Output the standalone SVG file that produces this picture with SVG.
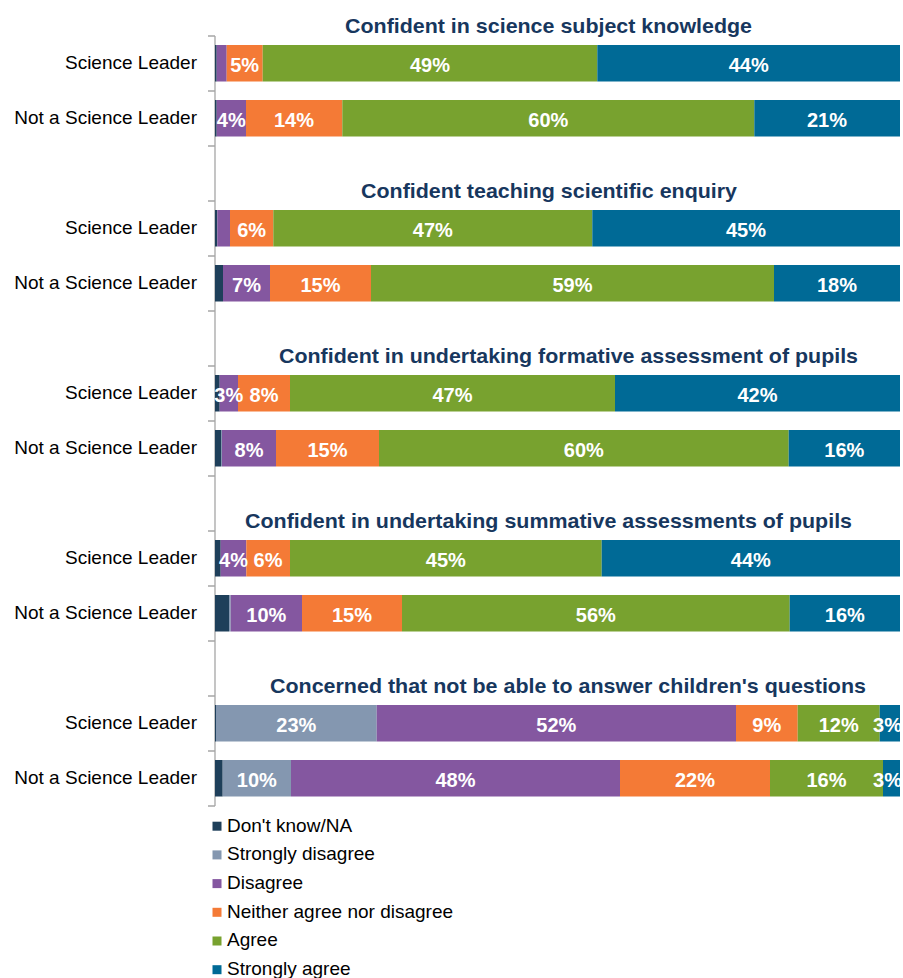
<svg xmlns="http://www.w3.org/2000/svg" width="903" height="978" viewBox="0 0 903 978">
<style>
.dk{fill:#1E3F5A}.sd{fill:#8497B0}.dis{fill:#8457A0}.nei{fill:#F47A36}.agr{fill:#78A22F}.sa{fill:#006A96}
.ttl{font-family:"Liberation Sans",Arial,sans-serif;font-weight:bold;font-size:21px;fill:#17375E}
.cat{font-family:"Liberation Sans",Arial,sans-serif;font-size:19px;fill:#000;text-anchor:end}
.val{font-family:"Liberation Sans",Arial,sans-serif;font-weight:bold;font-size:20px;fill:#fff;text-anchor:middle}
.leg{font-family:"Liberation Sans",Arial,sans-serif;font-size:19px;fill:#000}
.ax{stroke:#A6A6A6;stroke-width:1.3;fill:none}
</style>
<rect width="903" height="978" fill="#fff"/>
<g id="axis">
<path class="ax" d="M215,36V806M208,36H215M208,91H215M208,146H215M208,201H215M208,256H215M208,311H215M208,366H215M208,421H215M208,476H215M208,531H215M208,586H215M208,641H215M208,696H215M208,751H215M208,806H215"/>
</g>
<g id="titles">
<text class="ttl" x="345" y="33" textLength="407" lengthAdjust="spacingAndGlyphs">Confident in science subject knowledge</text>
<text class="ttl" x="361" y="198" textLength="376" lengthAdjust="spacingAndGlyphs">Confident teaching scientific enquiry</text>
<text class="ttl" x="279" y="363" textLength="579" lengthAdjust="spacingAndGlyphs">Confident in undertaking formative assessment of pupils</text>
<text class="ttl" x="245" y="528" textLength="607" lengthAdjust="spacingAndGlyphs">Confident in undertaking summative assessments of pupils</text>
<text class="ttl" x="270" y="693" textLength="596" lengthAdjust="spacingAndGlyphs">Concerned that not be able to answer children's questions</text>
</g>
<g id="categories">
<text class="cat" x="197" y="69">Science Leader</text>
<text class="cat" x="197" y="124">Not a Science Leader</text>
<text class="cat" x="197" y="234">Science Leader</text>
<text class="cat" x="197" y="289">Not a Science Leader</text>
<text class="cat" x="197" y="399">Science Leader</text>
<text class="cat" x="197" y="454">Not a Science Leader</text>
<text class="cat" x="197" y="564">Science Leader</text>
<text class="cat" x="197" y="619">Not a Science Leader</text>
<text class="cat" x="197" y="729">Science Leader</text>
<text class="cat" x="197" y="784">Not a Science Leader</text>
</g>
<g id="g1-sl">
<rect class="dk" x="215" y="45" width="1.7" height="36.5"/>
<rect class="dis" x="216.7" y="45" width="10" height="36.5"/>
<rect class="nei" x="226.7" y="45" width="36" height="36.5"/>
<rect class="agr" x="262.7" y="45" width="334.6" height="36.5"/>
<rect class="sa" x="597.3" y="45" width="302.7" height="36.5"/>
<text class="val" x="244.7" y="72">5%</text>
<text class="val" x="430" y="72">49%</text>
<text class="val" x="748.7" y="72">44%</text>
</g>
<g id="g1-nsl">
<rect class="dk" x="215" y="100" width="1.7" height="36.5"/>
<rect class="dis" x="216.7" y="100" width="29.3" height="36.5"/>
<rect class="nei" x="246" y="100" width="96.3" height="36.5"/>
<rect class="agr" x="342.3" y="100" width="412" height="36.5"/>
<rect class="sa" x="754.3" y="100" width="145.7" height="36.5"/>
<text class="val" x="231.3" y="127">4%</text>
<text class="val" x="294" y="127">14%</text>
<text class="val" x="548.3" y="127">60%</text>
<text class="val" x="827" y="127">21%</text>
</g>
<g id="g2-sl">
<rect class="dk" x="215" y="210" width="2.3" height="36.5"/>
<rect class="dis" x="217.3" y="210" width="12.7" height="36.5"/>
<rect class="nei" x="230" y="210" width="43.3" height="36.5"/>
<rect class="agr" x="273.3" y="210" width="319" height="36.5"/>
<rect class="sa" x="592.3" y="210" width="307.7" height="36.5"/>
<text class="val" x="251.7" y="237">6%</text>
<text class="val" x="432.8" y="237">47%</text>
<text class="val" x="746" y="237">45%</text>
</g>
<g id="g2-nsl">
<rect class="dk" x="215" y="265" width="8" height="36.5"/>
<rect class="dis" x="223" y="265" width="47" height="36.5"/>
<rect class="nei" x="270" y="265" width="101" height="36.5"/>
<rect class="agr" x="371" y="265" width="403" height="36.5"/>
<rect class="sa" x="774" y="265" width="126" height="36.5"/>
<text class="val" x="246.5" y="292">7%</text>
<text class="val" x="320.5" y="292">15%</text>
<text class="val" x="572.5" y="292">59%</text>
<text class="val" x="837" y="292">18%</text>
</g>
<g id="g3-sl">
<rect class="dk" x="215" y="375" width="4.7" height="36.5"/>
<rect class="dis" x="219.7" y="375" width="18.3" height="36.5"/>
<rect class="nei" x="238" y="375" width="52" height="36.5"/>
<rect class="agr" x="290" y="375" width="325" height="36.5"/>
<rect class="sa" x="615" y="375" width="285" height="36.5"/>
<text class="val" x="228.8" y="402">3%</text>
<text class="val" x="264" y="402">8%</text>
<text class="val" x="452.5" y="402">47%</text>
<text class="val" x="757.5" y="402">42%</text>
</g>
<g id="g3-nsl">
<rect class="dk" x="215" y="430" width="6" height="36.5"/>
<rect class="sd" x="221" y="430" width="1" height="36.5"/>
<rect class="dis" x="222" y="430" width="54" height="36.5"/>
<rect class="nei" x="276" y="430" width="103" height="36.5"/>
<rect class="agr" x="379" y="430" width="409.7" height="36.5"/>
<rect class="sa" x="788.7" y="430" width="111.3" height="36.5"/>
<text class="val" x="249" y="457">8%</text>
<text class="val" x="327.5" y="457">15%</text>
<text class="val" x="583.8" y="457">60%</text>
<text class="val" x="844.3" y="457">16%</text>
</g>
<g id="g4-sl">
<rect class="dk" x="215" y="540" width="5.7" height="36.5"/>
<rect class="dis" x="220.7" y="540" width="25.6" height="36.5"/>
<rect class="nei" x="246.3" y="540" width="43.7" height="36.5"/>
<rect class="agr" x="290" y="540" width="311.7" height="36.5"/>
<rect class="sa" x="601.7" y="540" width="298.3" height="36.5"/>
<text class="val" x="233.5" y="567">4%</text>
<text class="val" x="268" y="567">6%</text>
<text class="val" x="445.8" y="567">45%</text>
<text class="val" x="750.8" y="567">44%</text>
</g>
<g id="g4-nsl">
<rect class="dk" x="215" y="595" width="14" height="36.5"/>
<rect class="sd" x="229" y="595" width="1.7" height="36.5"/>
<rect class="dis" x="230.7" y="595" width="71.3" height="36.5"/>
<rect class="nei" x="302" y="595" width="100" height="36.5"/>
<rect class="agr" x="402" y="595" width="387.7" height="36.5"/>
<rect class="sa" x="789.7" y="595" width="110.3" height="36.5"/>
<text class="val" x="266.3" y="622">10%</text>
<text class="val" x="352" y="622">15%</text>
<text class="val" x="595.8" y="622">56%</text>
<text class="val" x="844.8" y="622">16%</text>
</g>
<g id="g5-sl">
<rect class="dk" x="215" y="705" width="1" height="36.5"/>
<rect class="sd" x="216" y="705" width="160.7" height="36.5"/>
<rect class="dis" x="376.7" y="705" width="359.3" height="36.5"/>
<rect class="nei" x="736" y="705" width="61.7" height="36.5"/>
<rect class="agr" x="797.7" y="705" width="82" height="36.5"/>
<rect class="sa" x="879.7" y="705" width="20.3" height="36.5"/>
<text class="val" x="296.3" y="732">23%</text>
<text class="val" x="556.3" y="732">52%</text>
<text class="val" x="766.8" y="732">9%</text>
<text class="val" x="838.7" y="732">12%</text>
<text class="val" x="887.5" y="732">3%</text>
</g>
<g id="g5-nsl">
<rect class="dk" x="215" y="760" width="7.7" height="36.5"/>
<rect class="sd" x="222.7" y="760" width="68.3" height="36.5"/>
<rect class="dis" x="291" y="760" width="329" height="36.5"/>
<rect class="nei" x="620" y="760" width="150" height="36.5"/>
<rect class="agr" x="770" y="760" width="113" height="36.5"/>
<rect class="sa" x="883" y="760" width="17" height="36.5"/>
<text class="val" x="256.8" y="787">10%</text>
<text class="val" x="455.5" y="787">48%</text>
<text class="val" x="695" y="787">22%</text>
<text class="val" x="826.5" y="787">16%</text>
<text class="val" x="887.5" y="787">3%</text>
</g>
<g id="legend">
<rect class="dk" x="212.5" y="821.7" width="9" height="9"/>
<text class="leg" x="227" y="831.5">Don't know/NA</text>
<rect class="sd" x="212.5" y="850.4" width="9" height="9"/>
<text class="leg" x="227" y="860.2">Strongly disagree</text>
<rect class="dis" x="212.5" y="879.1" width="9" height="9"/>
<text class="leg" x="227" y="888.9">Disagree</text>
<rect class="nei" x="212.5" y="907.8" width="9" height="9"/>
<text class="leg" x="227" y="917.6">Neither agree nor disagree</text>
<rect class="agr" x="212.5" y="936.5" width="9" height="9"/>
<text class="leg" x="227" y="946.3">Agree</text>
<rect class="sa" x="212.5" y="965.2" width="9" height="9"/>
<text class="leg" x="227" y="975">Strongly agree</text>
</g>
</svg>
